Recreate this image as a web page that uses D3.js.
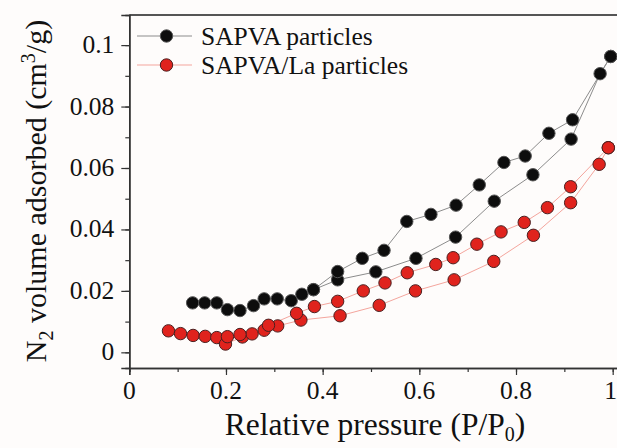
<!DOCTYPE html>
<meta charset="utf-8">
<script src="https://d3js.org/d3.v7.min.js"></script>
<style>
  body { margin: 0; background: #fefcfb; }
  svg text { font-family: "Liberation Serif", "DejaVu Serif", serif; }
</style>
<svg id="chart" width="617" height="448"></svg>
<script>
// SAPVA particles, adsorption and desorption branches [P/P0, volume]
var sapvaAds = [[0.131,0.0161],[0.156,0.0161],[0.181,0.0161],[0.203,0.0139],[0.229,0.0136],[0.257,0.0152],
  [0.279,0.0174],[0.306,0.0174],[0.335,0.0168],[0.357,0.0189],[0.381,0.0204],[0.431,0.0236],[0.510,0.0262],
  [0.593,0.0306],[0.675,0.0375],[0.755,0.0492],[0.835,0.0578],[0.914,0.0694],[0.974,0.0907],[0.996,0.0963]];
var sapvaDes = [[0.996,0.0963],[0.917,0.0757],[0.868,0.0713],[0.819,0.0639],[0.775,0.0618],[0.724,0.0545],
  [0.676,0.0479],[0.624,0.0449],[0.574,0.0426],[0.527,0.0332],[0.482,0.0306],[0.431,0.0263],[0.381,0.0204]];

// SAPVA/La particles
var laAds = [[0.081,0.0070],[0.106,0.0061],[0.132,0.0055],[0.157,0.0052],[0.181,0.0048],[0.199,0.0027],
  [0.234,0.0050],[0.254,0.0060],[0.279,0.0072],[0.307,0.0086],[0.355,0.0105],[0.436,0.0119],[0.517,0.0153],
  [0.592,0.0200],[0.672,0.0236],[0.754,0.0296],[0.836,0.0381],[0.913,0.0487],[0.972,0.0612],[0.991,0.0666]];
var laDes = [[0.991,0.0666],[0.913,0.0539],[0.865,0.0471],[0.817,0.0423],[0.769,0.0392],[0.719,0.0352],
  [0.670,0.0308],[0.634,0.0286],[0.575,0.0259],[0.529,0.0226],[0.484,0.0200],[0.431,0.0166],[0.383,0.0149],
  [0.346,0.0127],[0.288,0.0088],[0.229,0.0058],[0.203,0.0051]];

var xTicks = [0, 0.2, 0.4, 0.6, 0.8, 1];
var xLabels = ["0", "0.2", "0.4", "0.6", "0.8", "1"];
var yTicks = [0, 0.02, 0.04, 0.06, 0.08, 0.1];
var yLabels = ["0", "0.02", "0.04", "0.06", "0.08", "0.1"];
var seriesNames = ["SAPVA particles", "SAPVA/La particles"];

var svg = d3.select("#chart");

var x = d3.scaleLinear().domain([0, 1.011]).range([129.3, 618]);
var y = d3.scaleLinear().domain([-0.0051, 0.1098]).range([368, 15]);

// frame top
svg.append("line")
  .attr("x1", 129.3).attr("x2", 618).attr("y1", 15).attr("y2", 15)
  .style("stroke", "#555").style("stroke-width", 2);

// x axis
var xAxis = svg.append("g").attr("transform", "translate(0,368)");
xAxis.call(d3.axisBottom(x).tickValues(d3.range(0, 1.01, 0.1)).tickSize(4).tickFormat(""));
xAxis.append("g").call(d3.axisBottom(x).tickValues(xTicks).tickSize(7).tickFormat(""));
xAxis.attr("font-family", null);
xAxis.selectAll("path.domain").style("stroke", "#333").style("stroke-width", 1.5);
xAxis.selectAll("line").style("stroke", "#333").style("stroke-width", 1.2);
xAxis.selectAll(".xlab").data(xTicks).enter().append("text")
  .attr("x", function(d){ return d === 1 ? x(d) - 2 : x(d); }).attr("y", 31)
  .attr("text-anchor", "middle").style("font-size", "25.5px")
  .text(function(d, i){ return xLabels[i]; });

// y axis
var yAxis = svg.append("g").attr("transform", "translate(129.3,0)");
yAxis.call(d3.axisLeft(y).tickValues(d3.range(0, 0.1001, 0.01)).tickSize(4).tickFormat(""));
yAxis.append("g").call(d3.axisLeft(y).tickValues(yTicks).tickSize(8).tickFormat(""));
yAxis.attr("font-family", null);
yAxis.selectAll("path.domain").style("stroke", "#333").style("stroke-width", 1.5);
yAxis.selectAll("line").style("stroke", "#333").style("stroke-width", 1.2);
yAxis.selectAll(".ylab").data(yTicks).enter().append("text")
  .attr("x", -15).attr("y", function(d){ return y(d) + 8; })
  .attr("text-anchor", "end").style("font-size", "25.5px")
  .text(function(d, i){ return yLabels[i]; });

// axis titles
var xt = svg.append("text").attr("x", 375).attr("y", 435)
  .attr("text-anchor", "middle").style("font-size", "31.5px");
xt.append("tspan").text("Relative pressure (P/P");
xt.append("tspan").attr("dy", 6).style("font-size", "20px").text("0");
xt.append("tspan").attr("dy", -6).text(")");

var yt = svg.append("text").attr("transform", "translate(46,191) rotate(-90)")
  .attr("text-anchor", "middle").style("font-size", "30px");
yt.append("tspan").text("N");
yt.append("tspan").attr("dy", 7).style("font-size", "20px").text("2");
yt.append("tspan").attr("dy", -7).text(" volume adsorbed (cm");
yt.append("tspan").attr("dy", -11).style("font-size", "20px").text("3");
yt.append("tspan").attr("dy", 11).text("/g)");

var line = d3.line().x(function(d){ return x(d[0]); }).y(function(d){ return y(d[1]); });

function drawSeries(ads, des, lineColor, fill, stroke) {
  [ads, des].forEach(function(branch){
    svg.append("path").datum(branch).attr("d", line)
      .style("fill", "none").style("stroke", lineColor).style("stroke-width", 1);
  });
  svg.append("g").selectAll("circle").data(ads.concat(des)).enter().append("circle")
    .attr("cx", function(d){ return x(d[0]); })
    .attr("cy", function(d){ return y(d[1]); })
    .attr("r", 6.2)
    .style("fill", fill).style("stroke", stroke).style("stroke-width", 1);
}

drawSeries(sapvaAds, sapvaDes, "#8c8c8c", "#0d0d0d", "#555");
drawSeries(laAds, laDes, "#f4a59d", "#e0231d", "#4a2020");

// legend
var legendColors = [["#8c8c8c", "#0d0d0d", "#555"], ["#f4a59d", "#e0231d", "#4a2020"]];
seriesNames.forEach(function(name, i){
  var ly = 36 + i * 29;
  svg.append("line").attr("x1", 137).attr("x2", 192).attr("y1", ly).attr("y2", ly)
    .style("stroke", legendColors[i][0]).style("stroke-width", 1);
  svg.append("circle").attr("cx", 166.5).attr("cy", ly).attr("r", 6.2)
    .style("fill", legendColors[i][1]).style("stroke", legendColors[i][2]).style("stroke-width", 1);
  svg.append("text").attr("x", 201).attr("y", ly + 9).style("font-size", "25.5px").text(name);
});

svg.selectAll("text").style("fill", "#111");
</script>
